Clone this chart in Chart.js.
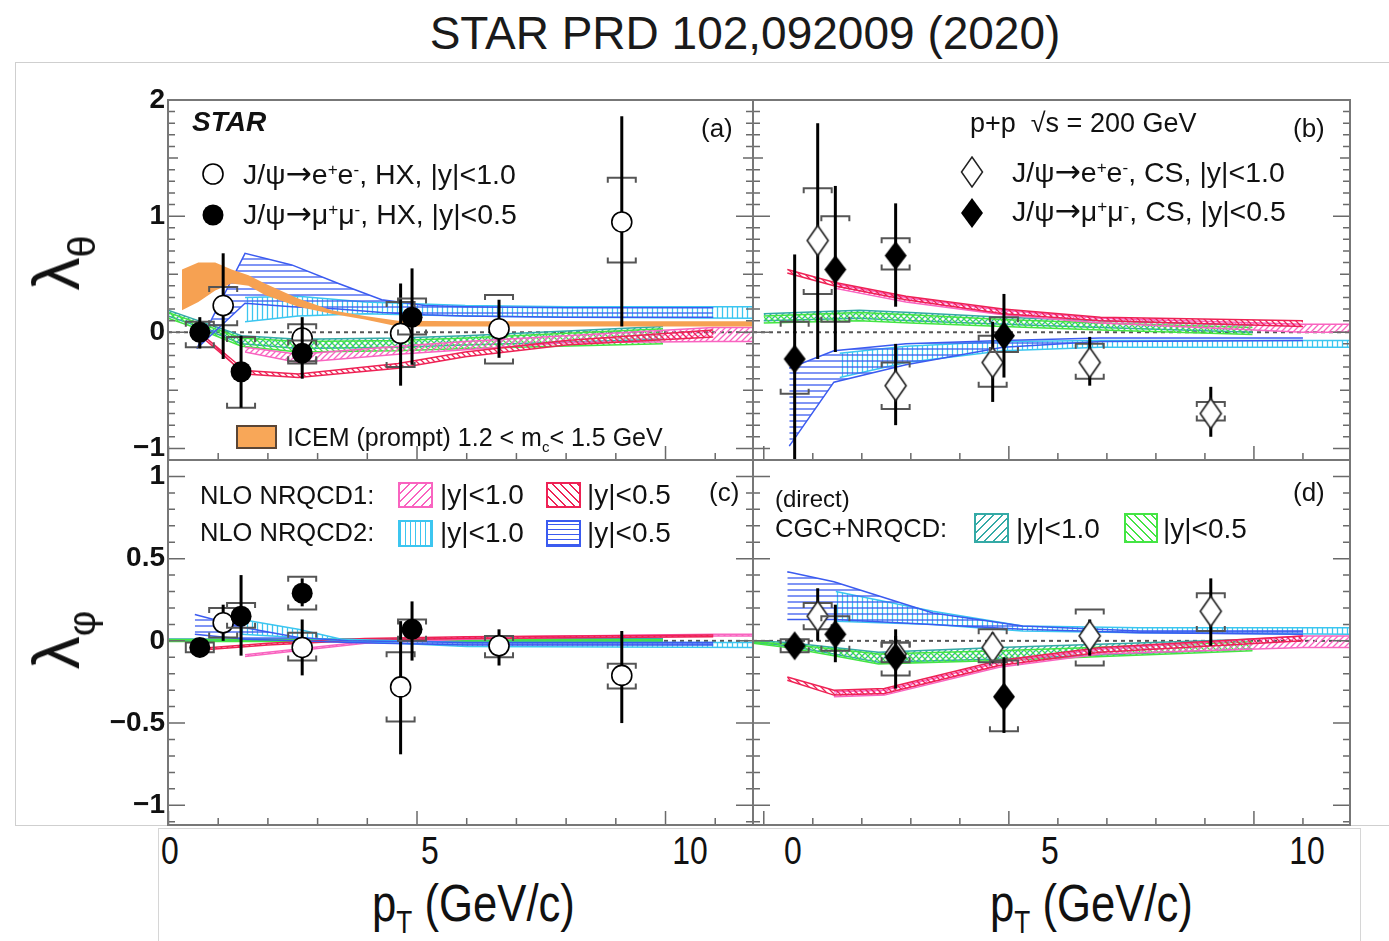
<!DOCTYPE html>
<html>
<head>
<meta charset="utf-8">
<script src="https://cdn.jsdelivr.net/npm/chart.js@4/dist/chart.umd.min.js"></script>
<style>
body{margin:0;background:#fff;}
#fig{position:relative;width:1389px;height:941px;overflow:hidden;background:#fff;font-family:'Liberation Sans',Arial,sans-serif;color:#111;}
canvas{position:absolute;}
.t{position:absolute;white-space:nowrap;line-height:1;transform:translateY(-50%);}
.c{transform:translate(-50%,-50%);}
.sup{font-size:0.6em;position:relative;top:-0.55em;}
.sub{font-size:0.6em;position:relative;top:0.4em;}
.arr{font-family:'DejaVu Sans',sans-serif;font-size:1.1em;}
.nar{transform:translate(-50%,-50%) scaleX(0.84);}
.nar2{transform:translateY(-50%) scaleX(0.84);transform-origin:left center;}
.box{position:absolute;box-sizing:border-box;}
.rot{position:absolute;white-space:nowrap;line-height:1;transform:translate(-50%,-50%) rotate(-90deg);font-size:66px;}
</style>
</head>
<body>
<div id="fig">
  <div class="box" style="left:15px;top:62px;width:1390px;height:764px;border:1px solid #cfcfcf;"></div>
  <div class="box" style="left:158px;top:828px;width:1203px;height:130px;border:1px solid #d6d6d6;"></div>

  <canvas id="cA" width="665" height="395" style="left:95px;top:70px"></canvas>
  <canvas id="cB" width="615" height="395" style="left:745px;top:70px"></canvas>
  <canvas id="cC" width="665" height="375" style="left:95px;top:455px"></canvas>
  <canvas id="cD" width="615" height="375" style="left:745px;top:455px"></canvas>

  <div class="t c" style="left:745px;top:33px;font-size:46px;color:#1a1a1a;">STAR PRD 102,092009 (2020)</div>

  <div class="rot" style="left:56px;top:263px;">λ<span class="sub">θ</span></div>
  <div class="rot" style="left:56px;top:640px;">λ<span class="sub">φ</span></div>

  <!-- x tick labels strip -->
  <div class="t nar" style="left:170px;top:851px;font-size:38px;">0</div>
  <div class="t nar" style="left:430px;top:851px;font-size:38px;">5</div>
  <div class="t nar" style="left:690px;top:851px;font-size:38px;">10</div>
  <div class="t nar" style="left:793px;top:851px;font-size:38px;">0</div>
  <div class="t nar" style="left:1050px;top:851px;font-size:38px;">5</div>
  <div class="t nar" style="left:1307px;top:851px;font-size:38px;">10</div>
  <div class="t nar2" style="left:372px;top:903px;font-size:52px;">p<span class="sub">T</span> (GeV/c)</div>
  <div class="t nar2" style="left:990px;top:903px;font-size:52px;">p<span class="sub">T</span> (GeV/c)</div>

  <!-- panel (a) -->
  <div class="t" style="left:192px;top:122px;font-size:28px;font-weight:bold;font-style:italic;">STAR</div>
  <div class="t" style="left:701px;top:128px;font-size:26px;">(a)</div>
  <svg class="box" style="left:201px;top:162px" width="24" height="24"><circle cx="12" cy="12" r="10" fill="#fff" stroke="#000" stroke-width="1.6"/></svg>
  <svg class="box" style="left:201px;top:203px" width="24" height="24"><circle cx="12" cy="12" r="10.5" fill="#000"/></svg>
  <div class="t" style="left:243px;top:174px;font-size:28.5px;">J/ψ<span class="arr">→</span>e<span class="sup">+</span>e<span class="sup">-</span>, HX, |y|&lt;1.0</div>
  <div class="t" style="left:243px;top:214px;font-size:28.5px;">J/ψ<span class="arr">→</span>μ<span class="sup">+</span>μ<span class="sup">-</span>, HX, |y|&lt;0.5</div>
  <div class="box" style="left:236px;top:425px;width:41px;height:24px;background:#f8a758;border:2px solid #5a4535;"></div>
  <div class="t" style="left:287px;top:437px;font-size:25px;">ICEM (prompt) 1.2 &lt; m<span class="sub">c</span>&lt; 1.5 GeV</div>

  <!-- panel (b) -->
  <div class="t" style="left:970px;top:123px;font-size:27px;">p+p &nbsp;√s = 200 GeV</div>
  <div class="t" style="left:1293px;top:128px;font-size:26px;">(b)</div>
  <svg class="box" style="left:960px;top:156px" width="24" height="32"><polygon points="12,1 22.5,16 12,31 1.5,16" fill="#fff" stroke="#222" stroke-width="1.5"/></svg>
  <svg class="box" style="left:960px;top:197px" width="24" height="32"><polygon points="12,1 23,16 12,31 1,16" fill="#000"/></svg>
  <div class="t" style="left:1012px;top:172px;font-size:28.5px;">J/ψ<span class="arr">→</span>e<span class="sup">+</span>e<span class="sup">-</span>, CS, |y|&lt;1.0</div>
  <div class="t" style="left:1012px;top:211px;font-size:28.5px;">J/ψ<span class="arr">→</span>μ<span class="sup">+</span>μ<span class="sup">-</span>, CS, |y|&lt;0.5</div>

  <!-- panel (c) -->
  <div class="t" style="left:200px;top:496px;font-size:25.5px;">NLO NRQCD1:</div>
  <div class="t" style="left:200px;top:533px;font-size:25.5px;">NLO NRQCD2:</div>
  <div class="box" style="left:398px;top:482px;width:35px;height:26px;border:2px solid #f964c0;background:repeating-linear-gradient(135deg,#f964c0 0 1.4px,transparent 1.4px 6px);"></div>
  <div class="box" style="left:546px;top:482px;width:35px;height:26px;border:2px solid #ee2255;background:repeating-linear-gradient(45deg,#ee2255 0 1.4px,transparent 1.4px 6px);"></div>
  <div class="box" style="left:398px;top:520px;width:35px;height:27px;border:2px solid #3cc6f0;background:repeating-linear-gradient(90deg,#3cc6f0 0 1.4px,transparent 1.4px 5px);"></div>
  <div class="box" style="left:546px;top:520px;width:35px;height:27px;border:2px solid #3b5bf0;background:repeating-linear-gradient(0deg,#3b5bf0 0 1.4px,transparent 1.4px 5px);"></div>
  <div class="t" style="left:440px;top:495px;font-size:28px;">|y|&lt;1.0</div>
  <div class="t" style="left:587px;top:495px;font-size:28px;">|y|&lt;0.5</div>
  <div class="t" style="left:440px;top:533px;font-size:28px;">|y|&lt;1.0</div>
  <div class="t" style="left:587px;top:533px;font-size:28px;">|y|&lt;0.5</div>
  <div class="t" style="left:709px;top:492px;font-size:26px;">(c)</div>

  <!-- panel (d) -->
  <div class="t" style="left:775px;top:499px;font-size:24px;">(direct)</div>
  <div class="t" style="left:775px;top:529px;font-size:25.5px;">CGC+NRQCD:</div>
  <div class="box" style="left:974px;top:513px;width:35px;height:30px;border:2px solid #34aaa6;background:repeating-linear-gradient(135deg,#34aaa6 0 1.4px,transparent 1.4px 6px);"></div>
  <div class="box" style="left:1124px;top:513px;width:34px;height:30px;border:2px solid #44e544;background:repeating-linear-gradient(45deg,#44e544 0 1.4px,transparent 1.4px 6px);"></div>
  <div class="t" style="left:1016px;top:529px;font-size:28px;">|y|&lt;1.0</div>
  <div class="t" style="left:1163px;top:529px;font-size:28px;">|y|&lt;0.5</div>
  <div class="t" style="left:1293px;top:492px;font-size:26px;">(d)</div>
</div>

<script>
// pT bin centres (GeV/c)
const ptEE = [1.10, 2.69, 4.67, 6.65, 9.12];
const ptMU = [0.63, 1.46, 2.69, 4.90];

// (a) lambda_theta, helicity frame
const thHxEE = [0.23, -0.05, -0.01, 0.03, 0.95];
const thHxEEstat = [[-0.23, 0.68], [-0.22, 0.13], [-0.46, 0.42], [-0.22, 0.28], [0.05, 1.86]];
const thHxEEsys = [[0.06, 0.39], [-0.25, 0.07], [-0.30, 0.26], [-0.27, 0.32], [0.60, 1.33]];
const thHxMU = [0.00, -0.34, -0.18, 0.13];
const thHxMUstat = [[-0.14, 0.13], [-0.65, -0.03], [-0.40, 0.05], [-0.28, 0.55]];
const thHxMUsys = [[-0.13, 0.09], [-0.65, -0.04], [-0.27, -0.07], [-0.02, 0.29]];

// (b) lambda_theta, Collins-Soper frame
const thCsEE = [0.79, -0.46, -0.26, -0.26, -0.70];
const thCsEEstat = [[-0.23, 1.80], [-0.80, -0.10], [-0.60, 0.09], [-0.46, -0.04], [-0.90, -0.47]];
const thCsEEsys = [[0.33, 1.24], [-0.66, -0.26], [-0.47, -0.03], [-0.40, -0.10], [-0.76, -0.60]];
const thCsMU = [-0.23, 0.54, 0.66, -0.03];
const thCsMUstat = [[-1.15, 0.67], [-0.17, 1.26], [0.22, 1.11], [-0.39, 0.33]];
const thCsMUsys = [[-0.53, 0.09], [0.09, 1.00], [0.54, 0.81], [-0.17, 0.13]];

// (c) lambda_phi, helicity frame
const phHxEE = [0.11, -0.04, -0.28, -0.03, -0.21];
const phHxEEstat = [[0.0, 0.22], [-0.21, 0.13], [-0.69, 0.12], [-0.15, 0.07], [-0.50, 0.06]];
const phHxEEsys = [[0.02, 0.20], [-0.12, 0.05], [-0.49, -0.07], [-0.10, 0.03], [-0.29, -0.14]];
const phHxMU = [-0.04, 0.15, 0.29, 0.07];
const phHxMUstat = [[-0.06, -0.02], [-0.09, 0.40], [0.21, 0.38], [-0.12, 0.24]];
const phHxMUsys = [[-0.07, -0.01], [0.08, 0.23], [0.19, 0.39], [0.0, 0.13]];

// (d) lambda_phi, Collins-Soper frame
const phCsEE = [0.15, -0.08, -0.04, 0.03, 0.18];
const phCsEEstat = [[0.0, 0.32], [-0.18, 0.03], [-0.10, 0.05], [-0.09, 0.13], [-0.03, 0.38]];
const phCsEEsys = [[0.07, 0.23], [-0.13, -0.01], [-0.13, 0.07], [-0.15, 0.19], [0.06, 0.29]];
const phCsMU = [-0.03, 0.04, -0.10, -0.34];
const phCsMUstat = [[-0.06, 0.0], [-0.13, 0.22], [-0.29, 0.07], [-0.56, -0.10]];
const phCsMUsys = [[-0.07, 0.01], [-0.06, 0.15], [-0.21, -0.01], [-0.55, -0.12]];

// model bands: x nodes, upper edge, lower edge
const aIcemX = [0.27, 0.60, 0.94, 1.27, 1.61, 1.94, 2.61, 3.28, 3.95, 4.62, 5.97, 11.76];
const aIcemHi = [0.54, 0.60, 0.60, 0.54, 0.49, 0.42, 0.29, 0.19, 0.14, 0.10, 0.095, 0.095];
const aIcemLo = [0.19, 0.26, 0.36, 0.42, 0.40, 0.32, 0.22, 0.16, 0.11, 0.05, 0.05, 0.05];
const aBlueX = [0.57, 1.54, 2.48, 3.42, 4.29, 5.16, 5.97, 8.0, 10.96];
const aBlueHi = [-0.14, 0.68, 0.58, 0.42, 0.28, 0.23, 0.22, 0.21, 0.21];
const aBlueLo = [-0.14, 0.25, 0.22, 0.20, 0.17, 0.15, 0.14, 0.13, 0.13];
const aCyanX = [1.54, 2.61, 3.95, 5.97, 8.0, 11.76];
const aCyanHi = [0.30, 0.31, 0.26, 0.23, 0.22, 0.22];
const aCyanLo = [0.09, 0.14, 0.16, 0.14, 0.13, 0.12];
const aRedX = [0.62, 1.54, 2.61, 4.62, 5.97, 8.0, 10.96];
const aRedHi = [0.00, -0.33, -0.36, -0.27, -0.17, -0.07, 0.02];
const aRedLo = [-0.02, -0.36, -0.39, -0.31, -0.21, -0.11, -0.04];
const aPinkX = [1.54, 2.61, 4.62, 5.97, 8.0, 10.96, 11.76];
const aPinkHi = [-0.13, -0.19, -0.12, -0.08, -0.03, 0.04, 0.04];
const aPinkLo = [-0.17, -0.26, -0.19, -0.15, -0.09, -0.08, -0.08];
const aCgcX = [-0.01, 0.60, 1.47, 2.61, 4.62, 5.97, 9.95];
const aTealHi = [0.19, 0.10, -0.03, -0.06, -0.05, -0.03, 0.05];
const aTealLo = [0.14, 0.05, -0.10, -0.14, -0.13, -0.11, -0.06];
const aGreenHi = [0.17, 0.08, -0.05, -0.08, -0.07, -0.05, 0.03];
const aGreenLo = [0.12, 0.03, -0.12, -0.17, -0.16, -0.14, -0.10];

const bRedX = [0.48, 1.43, 2.90, 4.88, 6.87, 11.0];
const bRedHi = [0.54, 0.43, 0.31, 0.20, 0.13, 0.10];
const bRedLo = [0.51, 0.40, 0.28, 0.16, 0.10, 0.05];
const bPinkX = [1.43, 2.90, 4.88, 6.87, 11.0, 11.96];
const bPinkHi = [0.42, 0.30, 0.19, 0.12, 0.07, 0.07];
const bPinkLo = [0.38, 0.26, 0.15, 0.08, 0.0, 0.0];
const bBlueX = [0.52, 1.43, 2.90, 4.88, 6.87, 11.0];
const bBlueHi = [-0.31, -0.16, -0.10, -0.07, -0.05, -0.05];
const bBlueLo = [-0.98, -0.43, -0.28, -0.13, -0.08, -0.07];
const bCyanX = [1.55, 2.90, 4.88, 6.87, 11.96];
const bCyanHi = [-0.18, -0.12, -0.08, -0.07, -0.07];
const bCyanLo = [-0.39, -0.26, -0.16, -0.13, -0.13];
const bCgcX = [0, 1.95, 3.0, 4.88, 6.87, 9.97];
const bTealHi = [0.16, 0.19, 0.17, 0.13, 0.10, 0.06];
const bTealLo = [0.10, 0.12, 0.10, 0.07, 0.04, 0.0];
const bGreenHi = [0.14, 0.17, 0.15, 0.11, 0.08, 0.04];
const bGreenLo = [0.08, 0.10, 0.08, 0.05, 0.02, -0.02];

const cBlueX = [0.53, 1.54, 2.61, 3.62, 6.0, 10.96];
const cBlueHi = [0.16, 0.08, 0.02, 0.0, -0.01, -0.01];
const cBlueLo = [0.04, 0.01, 0.0, -0.01, -0.025, -0.025];
const cCyanX = [1.47, 2.61, 3.48, 6.0, 11.76];
const cCyanHi = [0.13, 0.07, 0.01, -0.01, -0.01];
const cCyanLo = [0.04, 0.02, 0.0, -0.035, -0.04];
const cRedX = [0.67, 2.0, 3.95, 5.97, 10.96];
const cRedHi = [-0.045, -0.015, 0.015, 0.025, 0.035];
const cRedLo = [-0.055, -0.025, 0.005, 0.015, 0.025];
const cPinkX = [1.54, 3.95, 5.97, 8.0, 10.96, 11.76];
const cPinkHi = [-0.085, -0.005, 0.02, 0.03, 0.04, 0.04];
const cPinkLo = [-0.095, -0.015, 0.01, 0.02, 0.03, 0.03];
const cCgcX = [-0.01, 3.0, 6.0, 9.95];
const cTealHi = [0.012, 0.012, 0.013, 0.013];
const cTealLo = [0.002, 0.002, 0.003, 0.003];
const cGreenHi = [0.006, 0.006, 0.007, 0.007];
const cGreenLo = [-0.004, -0.004, -0.003, -0.003];

const dBlueX = [0.48, 1.43, 3.45, 5.28, 7.66, 11.0];
const dBlueHi = [0.42, 0.36, 0.17, 0.09, 0.06, 0.06];
const dBlueLo = [0.13, 0.13, 0.10, 0.07, 0.05, 0.04];
const dCyanX = [1.47, 3.45, 5.28, 7.66, 11.96];
const dCyanHi = [0.30, 0.18, 0.09, 0.08, 0.08];
const dCyanLo = [0.12, 0.10, 0.06, 0.05, 0.04];
const dRedX = [0.48, 1.43, 2.46, 4.80, 6.87, 11.0];
const dRedHi = [-0.22, -0.30, -0.29, -0.12, -0.04, 0.03];
const dRedLo = [-0.24, -0.33, -0.32, -0.15, -0.07, 0.0];
const dPinkX = [1.43, 2.46, 4.80, 6.87, 11.0, 11.96];
const dPinkHi = [-0.31, -0.30, -0.13, -0.05, 0.03, 0.03];
const dPinkLo = [-0.34, -0.33, -0.16, -0.08, -0.04, -0.04];
const dCgcX = [-0.22, 0.48, 1.43, 2.34, 4.80, 9.97];
const dTealHi = [0.0, -0.01, -0.04, -0.07, -0.04, 0.01];
const dTealLo = [-0.01, -0.03, -0.08, -0.13, -0.11, -0.05];
const dGreenHi = [-0.005, -0.02, -0.05, -0.08, -0.06, -0.005];
const dGreenLo = [-0.015, -0.04, -0.09, -0.14, -0.12, -0.06];

// axis tick labels
const yTicksTheta = [2, 1, 0, -1];
const yTicksPhi = [1, 0.5, 0, -0.5, -1];

const COL = {orange:'#f6a152', blue:'#3b5bf0', cyan:'#3cc6f0', red:'#ee2255', pink:'#f964c0', teal:'#34aaa6', green:'#44e544'};
const FONT = "'Liberation Sans', Arial, sans-serif";

function hatch(color, kind, s){
  const c = document.createElement('canvas');
  c.width = s; c.height = s;
  const g = c.getContext('2d');
  g.strokeStyle = color; g.lineWidth = 1.3;
  g.beginPath();
  if(kind==='h'){ g.moveTo(0, s/2); g.lineTo(s, s/2); }
  else if(kind==='v'){ g.moveTo(s/2, 0); g.lineTo(s/2, s); }
  else if(kind==='f'){ g.moveTo(0, s); g.lineTo(s, 0); g.moveTo(-1, 1); g.lineTo(1, -1); g.moveTo(s-1, s+1); g.lineTo(s+1, s-1); }
  else { g.moveTo(0, 0); g.lineTo(s, s); g.moveTo(-1, s-1); g.lineTo(1, s+1); g.moveTo(s-1, -1); g.lineTo(s+1, 1); }
  g.stroke();
  return g.createPattern(c, 'repeat');
}

const PAT = {
  blue: hatch(COL.blue, 'h', 6), cyan: hatch(COL.cyan, 'v', 5),
  red: hatch(COL.red, 'b', 6), pink: hatch(COL.pink, 'f', 6),
  teal: hatch(COL.teal, 'f', 6), green: hatch(COL.green, 'b', 6)
};

function diamond(w, h, filled){
  const c = document.createElement('canvas');
  c.width = w + 4; c.height = h + 4;
  const g = c.getContext('2d');
  g.beginPath();
  g.moveTo(c.width/2, 2); g.lineTo(c.width-2, c.height/2); g.lineTo(c.width/2, c.height-2); g.lineTo(2, c.height/2);
  g.closePath();
  g.fillStyle = filled ? '#000' : '#fff'; g.fill();
  if(!filled){ g.lineWidth = 1.6; g.strokeStyle = '#222'; g.stroke(); }
  return c;
}
const openDia = diamond(21, 30, false), fullDia = diamond(22, 29, true);

function band(xs, hi, lo, key, order, solid){
  const bg = solid ? COL[key] : PAT[key];
  const common = {type:'line', borderColor: COL[key], borderWidth: solid ? 0 : 1.5, pointRadius: 0, tension: 0, order};
  return [
    Object.assign({data: xs.map((x,i)=>({x, y: hi[i]})), fill: '+1', backgroundColor: bg}, common),
    Object.assign({data: xs.map((x,i)=>({x, y: lo[i]})), fill: false}, common)
  ];
}

function points(xs, ys, stat, sys, style, order){
  const ds = {type:'scatter', data: xs.map((x,i)=>({x, y: ys[i]})), stat, sys, order, borderColor:'#000'};
  if(style==='open') Object.assign(ds, {pointStyle:'circle', pointRadius:10, borderWidth:1.6, backgroundColor:'#fff'});
  if(style==='full') Object.assign(ds, {pointStyle:'circle', pointRadius:10.5, borderWidth:0, backgroundColor:'#000'});
  if(style==='odia') Object.assign(ds, {pointStyle: openDia, pointRadius:12});
  if(style==='fdia') Object.assign(ds, {pointStyle: fullDia, pointRadius:12});
  return ds;
}

// stat bars and systematic brackets, drawn just before the markers
const errBars = {
  id: 'errBars',
  beforeDatasetDraw(chart, args){
    const ds = chart.data.datasets[args.index];
    if(!ds.stat) return;
    const {ctx, chartArea: a, scales: {x, y}} = chart;
    ctx.save();
    ctx.beginPath(); ctx.rect(a.left, a.top, a.width, a.height); ctx.clip();
    ds.data.forEach((p, i) => {
      const px = x.getPixelForValue(p.x);
      const [slo, shi] = ds.sys[i];
      const yl = y.getPixelForValue(slo), yh = y.getPixelForValue(shi);
      ctx.strokeStyle = '#555'; ctx.lineWidth = 2;
      ctx.beginPath();
      ctx.moveTo(px-14, yh+5); ctx.lineTo(px-14, yh); ctx.lineTo(px+14, yh); ctx.lineTo(px+14, yh+5);
      ctx.moveTo(px-14, yl-5); ctx.lineTo(px-14, yl); ctx.lineTo(px+14, yl); ctx.lineTo(px+14, yl-5);
      ctx.stroke();
      const [lo, hi] = ds.stat[i];
      ctx.strokeStyle = '#000'; ctx.lineWidth = 3;
      ctx.beginPath();
      ctx.moveTo(px, y.getPixelForValue(lo)); ctx.lineTo(px, y.getPixelForValue(hi));
      ctx.stroke();
    });
    ctx.restore();
  }
};

// ROOT-like frame: dashed zero line, inward ticks, box
const frame = {
  id: 'frame',
  beforeDatasetsDraw(chart){
    const {ctx, chartArea: a, scales: {y}} = chart;
    const y0 = y.getPixelForValue(0);
    ctx.save();
    ctx.strokeStyle = '#555'; ctx.lineWidth = 2; ctx.setLineDash([4, 4]);
    ctx.beginPath(); ctx.moveTo(a.left, y0); ctx.lineTo(a.right, y0); ctx.stroke();
    ctx.restore();
  },
  afterDatasetsDraw(chart, args, opts){
    const {ctx, chartArea: a, scales: {x, y}} = chart;
    ctx.save();
    ctx.strokeStyle = '#6a6a6a'; ctx.lineWidth = 1.5;
    ctx.beginPath();
    for(let v = Math.ceil(x.min); v <= x.max; v++){
      const px = x.getPixelForValue(v);
      const len = v % 5 === 0 ? 14 : 7;
      ctx.moveTo(px, a.bottom); ctx.lineTo(px, a.bottom - len);
    }
    for(let k = Math.ceil(y.min*10 - 1e-6); k <= Math.floor(y.max*10 + 1e-6); k++){
      const py = y.getPixelForValue(k/10);
      let len = 7;
      if(k % opts.major === 0) len = 17; else if(k % 5 === 0) len = 10;
      ctx.moveTo(a.left, py); ctx.lineTo(a.left + len, py);
      ctx.moveTo(a.right, py); ctx.lineTo(a.right - len, py);
    }
    ctx.stroke();
    ctx.strokeStyle = '#777'; ctx.lineWidth = 2;
    ctx.strokeRect(a.left, a.top, a.width, a.height);
    ctx.restore();
  }
};

function panel(id, xr, yr, yLabels, majorEvery, pad, datasets){
  const yAxis = {min: yr[0], max: yr[1], display: !!yLabels,
    grid: {display:false, drawTicks:false}, border: {display:false}};
  if(yLabels){
    Object.assign(yAxis, {
      afterFit: s => { s.width = 73; s.paddingTop = 0; s.paddingBottom = 0; },
      afterBuildTicks: s => { s.ticks = yLabels.map(v => ({value: v})); },
      ticks: {autoSkip:false, padding:3, color:'#111', font:{family:FONT, size:28, weight:'bold'},
        callback: v => v < 0 ? '\u2212' + (-v) : String(v)}
    });
  }
  return new Chart(document.getElementById(id), {
    type: 'scatter',
    data: {datasets},
    options: {
      responsive:false, animation:false, events:[],
      layout: {padding: pad, autoPadding: false},
      scales: {x: {type:'linear', min: xr[0], max: xr[1], display:false}, y: yAxis},
      plugins: {legend:{display:false}, tooltip:{enabled:false}, frame:{major: majorEvery}}
    },
    plugins: [errBars, frame]
  });
}

const xLeft = [-0.01, 11.76], xRight = [-0.22, 11.96];

panel('cA', xLeft, [-1.1, 2.0], yTicksTheta, 10, {top:30, bottom:5, left:0, right:7}, [
  points(ptMU, thHxMU, thHxMUstat, thHxMUsys, 'full', 0),
  points(ptEE, thHxEE, thHxEEstat, thHxEEsys, 'open', 1),
  ...band(aIcemX, aIcemHi, aIcemLo, 'orange', 2, true),
  ...band(aBlueX, aBlueHi, aBlueLo, 'blue', 3),
  ...band(aCyanX, aCyanHi, aCyanLo, 'cyan', 4),
  ...band(aRedX, aRedHi, aRedLo, 'red', 5),
  ...band(aPinkX, aPinkHi, aPinkLo, 'pink', 6),
  ...band(aCgcX, aGreenHi, aGreenLo, 'green', 7),
  ...band(aCgcX, aTealHi, aTealLo, 'teal', 8)
]);

panel('cB', xRight, [-1.1, 2.0], null, 10, {top:30, bottom:5, left:8, right:10}, [
  points(ptMU, thCsMU, thCsMUstat, thCsMUsys, 'fdia', 0),
  points(ptEE, thCsEE, thCsEEstat, thCsEEsys, 'odia', 1),
  ...band(bBlueX, bBlueHi, bBlueLo, 'blue', 3),
  ...band(bCyanX, bCyanHi, bCyanLo, 'cyan', 4),
  ...band(bRedX, bRedHi, bRedLo, 'red', 5),
  ...band(bPinkX, bPinkHi, bPinkLo, 'pink', 6),
  ...band(bCgcX, bGreenHi, bGreenLo, 'green', 7),
  ...band(bCgcX, bTealHi, bTealLo, 'teal', 8)
]);

panel('cC', xLeft, [-1.12, 1.1], yTicksPhi, 5, {top:5, bottom:5, left:0, right:7}, [
  points(ptMU, phHxMU, phHxMUstat, phHxMUsys, 'full', 0),
  points(ptEE, phHxEE, phHxEEstat, phHxEEsys, 'open', 1),
  ...band(cBlueX, cBlueHi, cBlueLo, 'blue', 3),
  ...band(cCyanX, cCyanHi, cCyanLo, 'cyan', 4),
  ...band(cRedX, cRedHi, cRedLo, 'red', 5),
  ...band(cPinkX, cPinkHi, cPinkLo, 'pink', 6),
  ...band(cCgcX, cGreenHi, cGreenLo, 'green', 7),
  ...band(cCgcX, cTealHi, cTealLo, 'teal', 8)
]);

panel('cD', xRight, [-1.12, 1.1], null, 5, {top:5, bottom:5, left:8, right:10}, [
  points(ptMU, phCsMU, phCsMUstat, phCsMUsys, 'fdia', 0),
  points(ptEE, phCsEE, phCsEEstat, phCsEEsys, 'odia', 1),
  ...band(dBlueX, dBlueHi, dBlueLo, 'blue', 3),
  ...band(dCyanX, dCyanHi, dCyanLo, 'cyan', 4),
  ...band(dRedX, dRedHi, dRedLo, 'red', 5),
  ...band(dPinkX, dPinkHi, dPinkLo, 'pink', 6),
  ...band(dCgcX, dGreenHi, dGreenLo, 'green', 7),
  ...band(dCgcX, dTealHi, dTealLo, 'teal', 8)
]);
</script>
</body>
</html>
